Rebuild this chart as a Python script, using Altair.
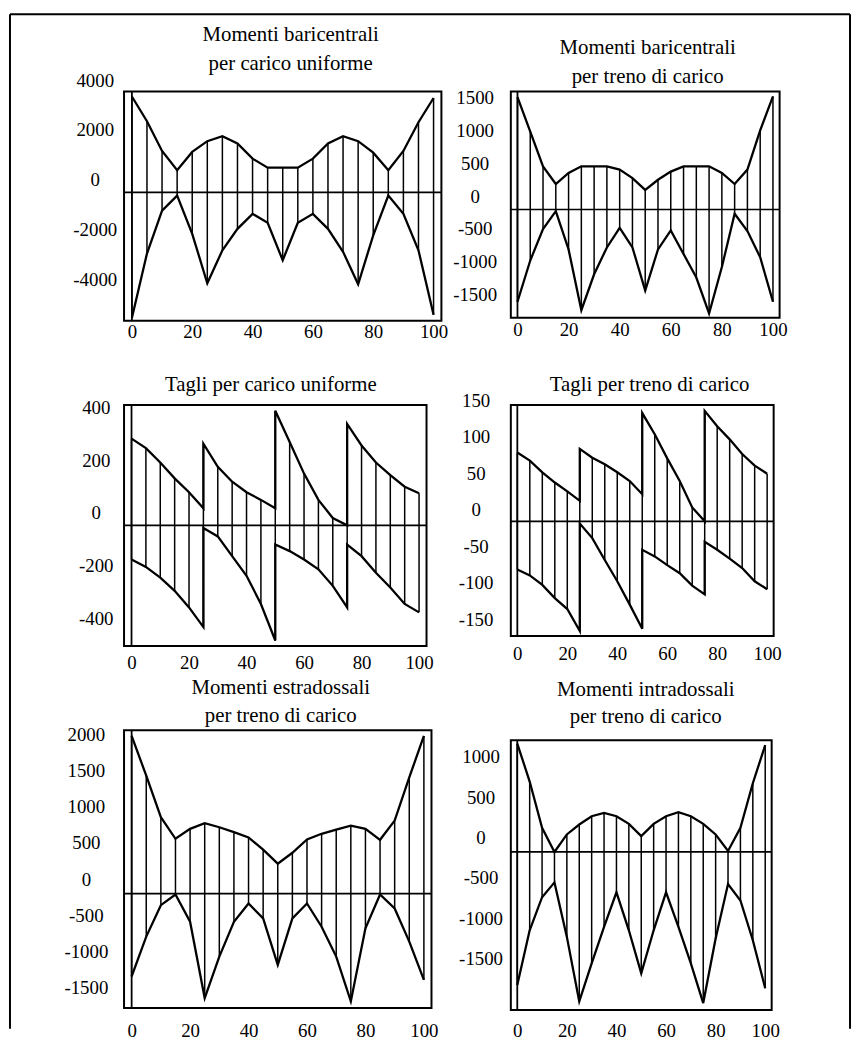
import altair as alt
import pandas as pd

FONT = "Liberation Serif"

# section abscissae
X = [0, 5, 10, 15, 20, 25, 30, 35, 40, 45, 50, 55, 60, 65, 70, 75, 80, 85, 90, 95, 100]
# shear diagrams: sections with a jump appear twice (left / right value)
XS = [0, 5, 10, 15, 20, 25, 25, 30, 35, 40, 45, 50, 50, 55, 60, 65, 70, 75, 75, 80, 85, 90, 95, 100]
X_TICKS = [0, 20, 40, 60, 80, 100]

P1_TITLE = ["Momenti baricentrali", "per carico uniforme"]
P1_UP = [3840, 2850, 1660, 890, 1620, 2050, 2250, 1960, 1350, 990, 990, 990, 1350, 1960, 2250, 2050, 1590, 890, 1660, 2810, 3780]
P1_LO = [-5030, -2450, -730, -130, -1660, -3640, -2320, -1460, -860, -1220, -2720, -1220, -860, -1460, -2380, -3680, -1720, -130, -860, -2320, -4900]
P1_YTICKS = [-4000, -2000, 0, 2000, 4000]

P2_TITLE = ["Momenti baricentrali", "per treno di carico"]
P2_UP = [1720, 1190, 660, 390, 560, 660, 660, 660, 610, 480, 300, 455, 580, 660, 660, 660, 560, 390, 610, 1210, 1730]
P2_LO = [-1410, -780, -300, -25, -610, -1540, -990, -580, -280, -580, -1240, -610, -320, -680, -1040, -1590, -880, -65, -330, -730, -1410]
P2_YTICKS = [-1500, -1000, -500, 0, 500, 1000, 1500]

P3_TITLE = ["Tagli per carico uniforme"]
P3_UP = [330, 294, 239, 179, 126, 65, 311, 223, 166, 126, 97, 65, 436, 317, 197, 97, 28, 0, 386, 304, 239, 191, 147, 122]
P3_LO = [-130, -158, -199, -249, -312, -387, -10, -42, -117, -192, -299, -438, -73, -98, -130, -167, -230, -312, -73, -117, -180, -236, -299, -331]
P3_YTICKS = [-400, -200, 0, 200, 400]

P4_TITLE = ["Tagli per treno di carico"]
P4_UP = [94, 83, 67, 53, 41, 28, 99, 87, 78, 67, 55, 37, 148, 119, 86, 55, 19, 0, 151, 130, 112, 92, 76, 65]
P4_LO = [-66, -74, -87, -105, -120, -150, -3, -23, -53, -82, -114, -147, -39, -48, -60, -71, -88, -100, -28, -39, -51, -64, -82, -93]
P4_YTICKS = [-150, -100, -50, 0, 50, 100, 150]

P5_TITLE = ["Momenti estradossali", "per treno di carico"]
P5_UP = [2180, 1630, 1055, 757, 894, 972, 917, 849, 775, 606, 413, 564, 748, 826, 885, 940, 894, 743, 1009, 1606, 2180]
P5_LO = [-1147, -596, -161, -14, -390, -1445, -872, -390, -138, -344, -986, -344, -138, -459, -872, -1491, -482, -14, -206, -665, -1193]
P5_YTICKS = [-1500, -1000, -500, 0, 500, 1000, 1500, 2000]

P6_TITLE = ["Momenti intradossali", "per treno di carico"]
P6_UP = [1344, 873, 299, 0, 217, 340, 443, 484, 443, 348, 197, 348, 443, 492, 443, 348, 217, 12, 299, 852, 1324]
P6_LO = [-1648, -971, -561, -377, -1053, -1852, -1381, -930, -500, -971, -1504, -971, -500, -930, -1381, -1873, -1074, -398, -602, -1094, -1689]
P6_YTICKS = [-1500, -1000, -500, 0, 500, 1000]


def panel(title, tx, tys, xs, up, lo, ydom, yticks, w, h, ypad, yoff, xpad,
          frame_top=None, border=False):
    df = pd.DataFrame({"x": xs, "up": up, "lo": lo})
    df["k"] = range(len(df))
    seg = df.groupby("x", as_index=False).agg(ymin=("lo", "min"), ymax=("up", "max"))
    ticks = pd.DataFrame({"v": yticks, "lab": [str(v) for v in yticks]})
    xsc = alt.Scale(domain=[-2.6, 102.6], nice=False, zero=False)
    ysc = alt.Scale(domain=ydom, nice=False, zero=False)
    xax = alt.Axis(values=X_TICKS, title=None, grid=False, domain=False, ticks=False, tickSize=0,
                   labelFont=FONT, labelFontSize=19, labelColor="black", labelPadding=xpad,
                   labelFlush=False, labelOverlap=False, labelExpr="datum.value + ''")
    yax = alt.Axis(values=yticks, title=None, grid=False, domain=False, ticks=False, labels=False)
    xenc = alt.X("x:Q", scale=xsc, axis=xax)
    rules = alt.Chart(seg).mark_rule(color="black", strokeWidth=1.5).encode(
        x=xenc, y=alt.Y("ymin:Q", scale=ysc, axis=yax), y2="ymax:Q")
    upper = alt.Chart(df).mark_line(color="black", strokeWidth=2.3).encode(
        x=xenc, y=alt.Y("up:Q", scale=ysc, axis=yax), order="k:Q")
    lower = alt.Chart(df).mark_line(color="black", strokeWidth=2.3).encode(
        x=xenc, y=alt.Y("lo:Q", scale=ysc, axis=yax), order="k:Q")
    ylabels = alt.Chart(ticks).mark_text(
        font=FONT, fontSize=19, align="center", baseline="middle", color="black", dy=yoff
    ).encode(x=alt.value(-ypad), y=alt.Y("v:Q", scale=ysc, axis=yax), text="lab:N")
    one = pd.DataFrame({"v": [0]})
    zero = alt.Chart(one).mark_rule(color="black", strokeWidth=1.7).encode(y=alt.datum(0))
    if frame_top is None:
        vax = alt.Chart(one).mark_rule(color="black", strokeWidth=1.8).encode(x=alt.datum(0))
    else:
        vax = alt.Chart(one).mark_rule(color="black", strokeWidth=1.8).encode(
            x=alt.datum(0), y=alt.datum(frame_top), y2=alt.datum(ydom[0]))
    layers = [rules, upper, lower, zero, vax, ylabels]
    if frame_top is not None:
        layers.append(alt.Chart(one).mark_rect(fill=None, stroke="black", strokeWidth=2).encode(
            x=alt.value(0), x2=alt.value(w), y=alt.datum(frame_top), y2=alt.datum(ydom[0])))
    for line, ty in zip(title, tys):
        layers.append(alt.Chart(one).mark_text(
            text=line, font=FONT, fontSize=21, align="center", baseline="alphabetic", color="black"
        ).encode(x=alt.value(tx), y=alt.value(ty)))
    if border:
        b = alt.Chart(one).mark_rule(color="black", strokeWidth=2)
        layers += [
            b.encode(x=alt.value(-115), x2=alt.value(732), y=alt.value(-78)),
            b.encode(x=alt.value(-115), y=alt.value(-78), y2=alt.value(945)),
            b.encode(x=alt.value(732), y=alt.value(-78), y2=alt.value(945)),
        ]
    ch = alt.layer(*layers).properties(width=w, height=h)
    if frame_top is not None:
        ch = ch.properties(view=alt.ViewBackground(stroke=None))
    return ch


p1 = panel(P1_TITLE, 168, [-51, -22], X, P1_UP, P1_LO, [-5140, 4035], P1_YTICKS, 320, 231, 29, -12, 2, border=True)
p2 = panel(P2_TITLE, 138, [-38, -9], X, P2_UP, P2_LO, [-1655, 1803], P2_YTICKS, 271, 228, 36, -13, 3)
p3 = panel(P3_TITLE, 148, [-14], XS, P3_UP, P3_LO, [-459, 458], P3_YTICKS, 305, 243, 28, -12, 8)
p4 = panel(P4_TITLE, 140, [-14], XS, P4_UP, P4_LO, [-157, 159], P4_YTICKS, 265, 233, 35, -11, 9)
p5 = panel(P5_TITLE, 158, [-37, -8], X, P5_UP, P5_LO, [-1583, 2257], P5_YTICKS, 310, 280, 38, -14, 14)
p6 = panel(P6_TITLE, 136, [-35, -7], X, P6_UP, P6_LO, [-1959, 1508], P6_YTICKS, 263, 282, 30, -14, 12,
           frame_top=1385)

chart = alt.concat(p1, p2, p3, p4, p5, p6, columns=2, bounds="flush",
                   spacing=alt.RowColnumber(row=85, column=70)).properties(
    padding=0, background="white"
).configure_view(stroke="black", strokeWidth=2)

chart.save("out.html", embed_options={"renderer": "svg", "actions": False})
